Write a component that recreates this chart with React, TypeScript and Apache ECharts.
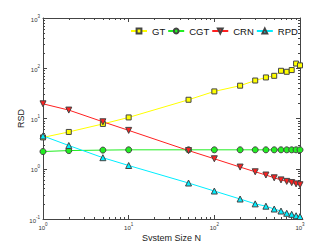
import React, { useEffect, useRef } from "react";
import * as echarts from "echarts";

const sizes = [1, 2, 5, 10, 50, 100, 200, 300, 400, 500, 600, 700, 800, 900, 1000];
const gt = [4.2, 5.4, 7.8, 10.5, 23.6, 34.6, 45, 57, 65.6, 70.7, 89, 85, 92, 124, 114];
const cgt = [2.2, 2.3, 2.35, 2.38, 2.38, 2.38, 2.38, 2.38, 2.38, 2.38, 2.38, 2.38, 2.38, 2.38, 2.38];
const crn = [19.6, 14.7, 8.6, 5.8, 2.3, 1.58, 1.08, 0.87, 0.75, 0.66, 0.6, 0.56, 0.53, 0.5, 0.48];
const rpd = [4.5, 2.9, 1.66, 1.16, 0.52, 0.36, 0.25, 0.2, 0.18, 0.158, 0.144, 0.13, 0.124, 0.116, 0.112];
const xMajor = [1, 10, 100, 1000];
const yMajor = [0.1, 1, 10, 100, 1000];

function minors(lo: number, hi: number): number[] {
  const out: number[] = [];
  for (let d = lo; d < hi; d *= 10) {
    for (let k = 2; k <= 9; k++) out.push(+(d * k).toPrecision(6));
  }
  return out;
}

const fmt = (v: number) => `{b|10}{s|${Math.round(Math.log10(v))}}`;
const rich = {
  b: { fontSize: 6, color: "#333", fontFamily: "Liberation Sans", verticalAlign: "bottom", lineHeight: 9 },
  s: { fontSize: 4.5, color: "#333", fontFamily: "Liberation Sans", verticalAlign: "top", lineHeight: 9 },
};
const axisCol = "#444";

function mkAxis(kind: "x" | "y", pos: string, major: boolean, show: boolean) {
  const vals = kind === "x" ? (major ? xMajor : minors(1, 1000)) : major ? yMajor : minors(0.1, 1000);
  return {
    type: "log",
    logBase: 10,
    min: kind === "x" ? 1 : 0.1,
    max: 1000,
    position: pos,
    axisLine: { show: major, lineStyle: { color: axisCol, width: 1 } },
    axisTick: {
      show: true,
      inside: true,
      length: major ? 4 : 2,
      customValues: vals,
      lineStyle: { color: axisCol, width: 1 },
    },
    axisLabel: show
      ? { show: true, customValues: vals, formatter: fmt, rich, margin: 3 }
      : { show: false },
    splitLine: { show: false },
    minorTick: { show: false },
  };
}

const mk = (name: string, vals: number[], color: string, symbol: string, size: number, rot = 0) => ({
  name,
  type: "line",
  data: sizes.map((n, i) => [n, vals[i]]),
  symbol,
  symbolRotate: rot,
  symbolSize: size,
  showAllSymbol: true,
  lineStyle: { color, width: 1 },
  itemStyle: { color, borderColor: "#444", borderWidth: 1 },
  emphasis: { disabled: true },
});

const nameStyle = { fontSize: 9, fontFamily: "Liberation Sans", color: "#222" };

export default function App() {
  const ref = useRef<HTMLDivElement>(null);
  useEffect(() => {
    const chart = echarts.init(ref.current!, null, { renderer: "svg" });
    chart.setOption({
      animation: false,
      backgroundColor: "#fff",
      grid: { left: 43, right: 32, top: 18, bottom: 30 },
      legend: {
        top: 26,
        left: 130,
        padding: 0,
        itemWidth: 16,
        itemHeight: 6,
        itemGap: 2,
        textStyle: { fontSize: 9.5, fontFamily: "Liberation Sans", color: "#111" },
        data: ["GT", "CGT", "CRN", "RPD"],
      },
      xAxis: [
        { ...mkAxis("x", "bottom", true, true), name: "System Size N", nameLocation: "middle", nameGap: 14, nameMoveOverlap: false, nameTextStyle: nameStyle },
        mkAxis("x", "bottom", false, false),
        mkAxis("x", "top", true, false),
        mkAxis("x", "top", false, false),
      ],
      yAxis: [
        { ...mkAxis("y", "left", true, true), name: "RSD", nameLocation: "middle", nameGap: 18, nameMoveOverlap: false, nameTextStyle: nameStyle },
        mkAxis("y", "left", false, false),
        mkAxis("y", "right", true, false),
        mkAxis("y", "right", false, false),
      ],
      series: [
        mk("GT", gt, "#ffff00", "rect", 5),
        mk("CGT", cgt, "#22ee22", "circle", 6),
        mk("CRN", crn, "#ff2020", "triangle", 6, 180),
        mk("RPD", rpd, "#00eeff", "triangle", 6),
      ],
    });
    return () => chart.dispose();
  }, []);
  return <div ref={ref} style={{ width: 332, height: 249, margin: -8 }} />;
}
